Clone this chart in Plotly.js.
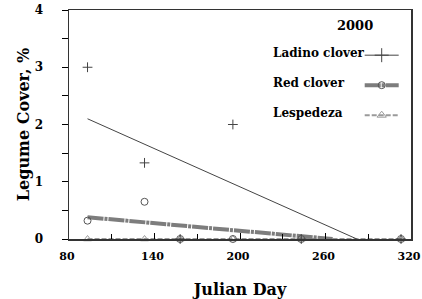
<!DOCTYPE html>
<html>
<head>
<meta charset="utf-8">
<script src="https://cdn.plot.ly/plotly-3.0.1.min.js"></script>
<style>html,body{margin:0;padding:0;background:#fff;}#chart{width:422px;height:299px;}</style>
</head>
<body>
<div id="chart"></div>
<script>
// Observed data (Julian day vs legume cover, %)
const days = [93, 133, 158, 195, 243, 313];
const ladinoCover = [3.0, 1.33, 0, 2.0, 0, 0];
const redCover = [0.32, 0.65, 0, 0, 0, 0];
const lespedezaCover = [0, 0, 0, 0, 0, 0];

// Fitted regression lines (end points)
const ladinoFitDays = [93, 282];
const ladinoFitCover = [2.10, 0];
const redFitDays = [93, 265];
const redFitCover = [0.38, 0];
const lespedezaFitDays = [93, 313];
const lespedezaFitCover = [0, 0];

const seriesNames = ["Ladino clover", "Red clover", "Lespedeza"];
const legendTitle = "2000";
const xTickVals = [80, 140, 200, 260, 320];
const yTickVals = [0, 1, 2, 3, 4];

const FONT = "DejaVu Serif";
const ladinoColor = "#444444";
const redColor = "#7d7d7d";
const lespColor = "#9a9a9a";
const redDash = "16px,1px,3px,1px";
const lespDash = "5px,2px";

const traces = [
  // fitted lines
  {x: lespedezaFitDays, y: lespedezaFitCover, mode: "lines", showlegend: false,
   line: {color: lespColor, width: 2, dash: lespDash}, cliponaxis: false},
  {x: redFitDays, y: redFitCover, mode: "lines", showlegend: false,
   line: {color: redColor, width: 4, dash: redDash}, cliponaxis: false},
  {x: ladinoFitDays, y: ladinoFitCover, mode: "lines", showlegend: false,
   line: {color: ladinoColor, width: 1}},
  // observed points
  {x: days, y: lespedezaCover, mode: "markers", showlegend: false, cliponaxis: false,
   marker: {symbol: "triangle-up-open", size: 7, color: lespColor, line: {width: 1}}},
  {x: days, y: redCover, mode: "markers", showlegend: false, cliponaxis: false,
   marker: {symbol: "circle-open", size: 7, color: "#555", line: {width: 1}}},
  {x: days, y: ladinoCover, mode: "markers", showlegend: false, cliponaxis: false,
   marker: {symbol: "cross-thin-open", size: 7, color: ladinoColor, line: {width: 1, color: ladinoColor}}},
  // legend entries
  {x: [null], y: [null], mode: "lines+markers", name: " ", legendgroup: "a",
   line: {color: ladinoColor, width: 1},
   marker: {symbol: "cross-thin-open", size: 10, color: ladinoColor, line: {width: 1, color: ladinoColor}}},
  {x: [null], y: [null], mode: "lines+markers", name: " ", legendgroup: "b",
   line: {color: redColor, width: 4, dash: redDash},
   marker: {symbol: "circle-open", size: 7, color: "#555", line: {width: 1}}},
  {x: [null], y: [null], mode: "lines+markers", name: " ", legendgroup: "c",
   line: {color: lespColor, width: 2, dash: lespDash},
   marker: {symbol: "triangle-up-open", size: 8, color: lespColor, line: {width: 1}}}
];

const annY = [0.812, 0.681, 0.550];
const annotations = seriesNames.map((n, i) => ({
  text: "<b>" + n + "</b>", xref: "paper", yref: "paper", x: 0.59, y: annY[i],
  xanchor: "left", yanchor: "middle", showarrow: false,
  font: {family: FONT, size: 12, color: "#000"}
}));
annotations.push({
  text: "<b>" + legendTitle + "</b>", xref: "paper", yref: "paper", x: 0.835, y: 0.934,
  xanchor: "center", yanchor: "middle", showarrow: false,
  font: {family: FONT, size: 13, color: "#000"}
});

const layout = {
  width: 422, height: 299,
  margin: {l: 69, r: 9, t: 10, b: 60},
  paper_bgcolor: "#fff", plot_bgcolor: "#fff",
  font: {family: FONT, color: "#000"},
  showlegend: true,
  legend: {
    xref: "paper", yref: "paper", x: 0.850, y: 0.866,
    xanchor: "left", yanchor: "top",
    traceorder: "grouped", tracegroupgap: 11, itemwidth: 34,
    bgcolor: "rgba(0,0,0,0)", borderwidth: 0,
    font: {family: FONT, size: 12}
  },
  xaxis: {
    range: [80, 320], tickvals: xTickVals, ticktext: xTickVals.map(v => "<b>" + v + "</b>"),
    ticks: "inside", ticklen: 6, tickcolor: "#000", tickwidth: 1,
    minor: {dtick: 30, tick0: 80, ticks: "inside", ticklen: 5, tickcolor: "#000"},
    showgrid: false, zeroline: false,
    showline: true, linecolor: "#333", linewidth: 1.5, mirror: true,
    tickfont: {family: FONT, size: 11},
    ticklabelstandoff: 6, ticklabelshift: -2, ticklabeloverflow: "allow",
    title: {text: "<b>Julian Day</b>", font: {family: FONT, size: 16}, standoff: 22}
  },
  yaxis: {
    range: [0, 4], tickvals: yTickVals, ticktext: yTickVals.map(v => "<b>" + v + "</b>"),
    ticks: "outside", ticklen: 6, tickcolor: "#000", tickwidth: 1,
    minor: {dtick: 0.5, tick0: 0, ticks: "outside", ticklen: 6, tickcolor: "#000"},
    showgrid: false, zeroline: false,
    showline: true, linecolor: "#333", linewidth: 1.5, mirror: true,
    tickfont: {family: FONT, size: 12},
    ticklabelstandoff: 16, ticklabeloverflow: "allow",
    title: {text: "<b>Legume Cover, %</b>", font: {family: FONT, size: 16}, standoff: 1}
  },
  annotations: annotations
};

Plotly.newPlot("chart", traces, layout, {displayModeBar: false, staticPlot: true});
</script>
</body>
</html>
